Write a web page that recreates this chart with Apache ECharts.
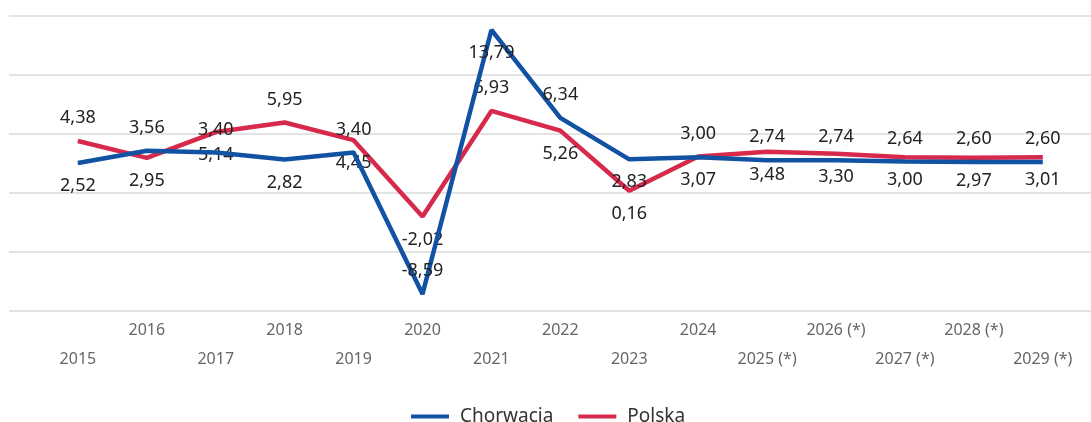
<!DOCTYPE html>
<html>
<head>
<meta charset="utf-8">
<script src="https://cdn.jsdelivr.net/npm/echarts@6/dist/echarts.min.js"></script>
<style>
  html, body { margin: 0; padding: 0; background: #fff; }
  #chart { width: 1091px; height: 422px; }
</style>
</head>
<body>
<div id="chart"></div>
<script>
// lata (2025+ to prognozy)
const years = ['2015', '2016', '2017', '2018', '2019', '2020', '2021', '2022', '2023', '2024',
  '2025 (*)', '2026 (*)', '2027 (*)', '2028 (*)', '2029 (*)']

const chorwacja = [2.52, 3.56, 3.40, 2.82, 3.40, -8.59, 13.79, 6.34, 2.83, 3.00, 2.74, 2.74, 2.64, 2.60, 2.60]
const polska = [4.38, 2.95, 5.14, 5.95, 4.45, -2.02, 6.93, 5.26, 0.16, 3.07, 3.48, 3.30, 3.00, 2.97, 3.01]

// gdzie stoi etykieta przy punkcie
const chorwacjaLabelPos = ['bottom', 'top', 'top', 'bottom', 'top', 'top', 'bottom', 'top', 'bottom',
  'top', 'top', 'top', 'top', 'top', 'top']
const polskaLabelPos = ['top', 'bottom', 'bottom', 'top', 'bottom', 'bottom', 'top', 'bottom', 'bottom',
  'bottom', 'bottom', 'bottom', 'bottom', 'bottom', 'bottom']

const fmt = v => v.toFixed(2).replace('.', ',')

function toPoints(values, positions) {
  return values.map((v, i) => ({
    value: [i, v],
    label: { position: positions[i] }
  }))
}

function lineSeries(name, color, values, positions) {
  return {
    name: name,
    type: 'line',
    data: toPoints(values, positions),
    symbol: 'circle',
    symbolSize: 1,
    itemStyle: { color: color },
    lineStyle: { color: color, width: 4.5 },
    label: {
      show: true,
      distance: 13.5,
      fontFamily: 'Noto Sans',
      fontSize: 18,
      color: '#222',
      formatter: p => fmt(p.value[1])
    },
    emphasis: { disabled: true },
    z: name === 'Chorwacja' ? 3 : 2
  }
}

const chart = echarts.init(document.getElementById('chart'))

const option = {
  animation: false,
  textStyle: { fontFamily: 'Noto Sans' },
  grid: {
    left: 9,
    right: 0,
    top: 15.7,
    bottom: 111.3,
    outerBoundsMode: 'none'
  },
  legend: {
    data: ['Chorwacja', 'Polska'],
    left: 406,
    top: 402,
    icon: 'rect',
    itemWidth: 38,
    itemHeight: 4,
    itemGap: 25,
    textStyle: { fontSize: 19, color: '#333', padding: [0, 0, 0, 6] }
  },
  xAxis: {
    type: 'value',
    min: -1,
    max: 14.7,
    interval: 1,
    axisLine: { show: false },
    axisTick: { show: false },
    splitLine: { show: false },
    axisLabel: {
      margin: 5,
      fontSize: 16,
      lineHeight: 29,
      color: '#666',
      showMaxLabel: false,
      formatter: v => {
        if (v < 0 || v > 14 || v % 1 !== 0) return ''
        return v % 2 === 0 ? '\n' + years[v] : years[v]
      }
    }
  },
  yAxis: {
    type: 'value',
    min: -10,
    max: 15,
    interval: 5,
    axisLine: { show: false },
    axisTick: { show: false },
    axisLabel: { show: false },
    splitLine: { lineStyle: { color: '#e3e3e3', width: 2 } }
  },
  series: [
    lineSeries('Chorwacja', '#1252a3', chorwacja, chorwacjaLabelPos),
    lineSeries('Polska', '#d6294c', polska, polskaLabelPos)
  ]
}

chart.setOption(option)
</script>
</body>
</html>
